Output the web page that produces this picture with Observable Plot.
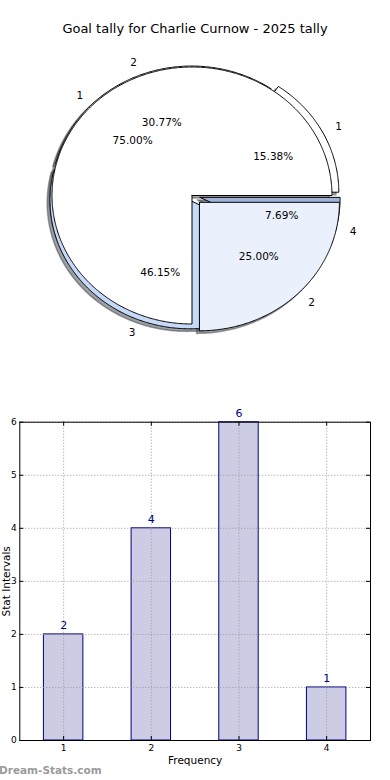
<!DOCTYPE html>
<html><head><meta charset="utf-8">
<script src="https://cdn.jsdelivr.net/npm/d3@7"></script>
<script src="https://cdn.jsdelivr.net/npm/@observablehq/plot@0.6"></script>
<style>
body{margin:0;background:#fff;font-family:"DejaVu Sans",sans-serif;}
#wrap{position:relative;width:390px;height:780px;overflow:hidden;background:#fff}
#pie{position:absolute;left:0;top:0}
#title{position:absolute;left:0;top:21px;width:390px;text-align:center;font-size:13px;line-height:16px;color:#000;}
#bar{position:absolute;left:0;top:400px}
#wm{position:absolute;left:-1px;top:763px;font-size:10.5px;line-height:14px;font-weight:bold;color:#9a9a9a}
svg text{font-family:"DejaVu Sans",sans-serif;}
</style></head>
<body><div id="wrap"><div id="pie"></div><div id="title">Goal tally for Charlie Curnow - 2025 tally</div><div id="bar"></div><div id="wm">Dream-Stats.com</div></div>
<script>
// ---- data ----
const frequencies = [1, 2, 3, 4];
const counts = [2, 4, 6, 1];
const yTicks = [0, 1, 2, 3, 4, 5, 6];

const pieALabels = ["1", "2", "3", "4"];
const pieAValues = [2, 4, 6, 1];
const pieBLabels = ["1", "2"];
const pieBValues = [75, 25];

// ---- styles ----
const pieAColors = ["#ffffff", "#ffffff", "#c6d9f8", "#9fb4d8"];
const pieAExplode = [0.055, 0.008, 0.04, 0.06];
const pieBColors = ["#ffffff", "#eaf0fc"];
const pieBExplode = [0, 0.075];

function wedges(name, labels, values, colors, explode) {
  const total = d3.sum(values);
  const arcs = d3.pie().sort(null).startAngle(Math.PI / 2).endAngle(Math.PI / 2 - 2 * Math.PI)(values);
  return arcs.map((a, i) => {
    const p0 = Math.PI / 2 - a.startAngle, p1 = Math.PI / 2 - a.endAngle;
    const pm = (p0 + p1) / 2;
    const ox = explode[i] * Math.cos(pm), oy = explode[i] * Math.sin(pm);
    const n = Math.max(2, Math.ceil((p1 - p0) / (Math.PI / 360)));
    const pts = [{x: ox, y: oy}];
    for (let k = 0; k <= n; k++) {
      const t = p0 + (p1 - p0) * k / n;
      pts.push({x: ox + Math.cos(t), y: oy + Math.sin(t)});
    }
    pts.push({x: ox, y: oy});
    return {id: name + i, label: labels[i], pct: (values[i] / total * 100).toFixed(2) + "%",
            color: colors[i], pts, ox, oy, pm};
  });
}
const wA = wedges("A", pieALabels, pieAValues, pieAColors, pieAExplode);
const wB = wedges("B", pieBLabels, pieBValues, pieBColors, pieBExplode);
const all = [...wA, ...wB];
const shade = c => { const r = d3.rgb(c); return d3.rgb(r.r * 0.3, r.g * 0.3, r.b * 0.3).formatHex(); };
const shadowRows = all.flatMap(w => w.pts.map(p => ({id: "s" + w.id, x: p.x - 0.02, y: p.y - 0.02, color: shade(w.color)})));
const rows = ws => ws.flatMap(w => w.pts.map(p => ({id: w.id, x: p.x, y: p.y, color: w.color})));
const outer = all.map(w => ({text: w.label, x: w.ox + 1.1 * Math.cos(w.pm), y: w.oy + 1.1 * Math.sin(w.pm)}));
const inner = all.map(w => ({text: w.pct, x: w.ox + 0.6 * Math.cos(w.pm), y: w.oy + 0.6 * Math.sin(w.pm)}));

const pie = Plot.plot({
  width: 390, height: 380, margin: 0,
  x: {domain: [-191.5 / 140, 198.5 / 140], axis: null},
  y: {domain: [(195 - 380) / 128.5, 195 / 128.5], axis: null},
  color: {type: "identity"},
  marks: [
    Plot.line(shadowRows, {x: "x", y: "y", z: "id", fill: "color", stroke: "color", fillOpacity: 0.5, strokeOpacity: 0.5, curve: "linear"}),
    Plot.line(rows(wA), {x: "x", y: "y", z: "id", fill: "color", stroke: "#000", strokeWidth: 1, curve: "linear", strokeLinejoin: "miter"}),
    Plot.line(rows(wB), {x: "x", y: "y", z: "id", fill: "color", stroke: "#000", strokeWidth: 1, curve: "linear", strokeLinejoin: "miter"}),
    Plot.text(outer.filter(d => d.x > 0), {x: "x", y: "y", text: "text", textAnchor: "start", fontSize: 10.5, fill: "#000"}),
    Plot.text(outer.filter(d => d.x <= 0), {x: "x", y: "y", text: "text", textAnchor: "end", fontSize: 10.5, fill: "#000"}),
    Plot.text(inner, {x: "x", y: "y", text: "text", textAnchor: "middle", fontSize: 10.5, fill: "#000"})
  ]
});
document.getElementById("pie").append(pie);

// ---- bar chart ----
const barData = frequencies.map((f, i) => ({freq: f, count: counts[i]}));
const mL = 19.3, mR = 20, mT = 21.7, mB = 40, W = 390, H = 380;
const pw = W - mL - mR, ph = H - mT - mB;
const bar = Plot.plot({
  width: W, height: H, marginLeft: mL, marginRight: mR, marginTop: mT, marginBottom: mB,
  x: {domain: [0.5, 4.5]},
  y: {domain: [0, 6]},
  style: {fontFamily: "DejaVu Sans", fontSize: "9px", color: "#000"},
  marks: [
    Plot.rectY(barData, {x1: d => d.freq - 0.225, x2: d => d.freq + 0.225, y1: 0, y2: "count", fill: "#ccccE5", stroke: "#000080", strokeWidth: 1}),
    Plot.gridX(frequencies, {stroke: "#999", strokeOpacity: 1, strokeDasharray: "1,2"}),
    Plot.gridY(yTicks, {stroke: "#999", strokeOpacity: 1, strokeDasharray: "1,2"}),
    Plot.text(barData, {x: "freq", y: "count", text: d => String(d.count), dy: -9, fill: "#00008b", fontSize: 11}),
    Plot.tickY(yTicks, {y: d => d, insetRight: pw - 4, stroke: "#000"}),
    Plot.tickY(yTicks, {y: d => d, insetLeft: pw - 4, stroke: "#000"}),
    Plot.tickX(frequencies, {x: d => d, insetTop: ph - 4, stroke: "#000"}),
    Plot.tickX(frequencies, {x: d => d, insetBottom: ph - 4, stroke: "#000"}),
    Plot.frame({stroke: "#000"}),
    Plot.axisX(frequencies, {tickSize: 0, tickPadding: 4, label: null, fontSize: 9, tickFormat: d => String(d)}),
    Plot.axisY(yTicks, {tickSize: 0, tickPadding: 3, label: null, fontSize: 9, tickFormat: d => String(d)}),
    Plot.text(["Frequency"], {text: d => d, frameAnchor: "bottom", lineAnchor: "middle", dy: 20, fontSize: 10.5, fill: "#000"}),
    Plot.text(["Stat Intervals"], {text: d => d, frameAnchor: "left", textAnchor: "middle", lineAnchor: "middle", dx: -13.5, rotate: -90, fontSize: 10.5, fill: "#000"})
  ]
});
document.getElementById("bar").append(bar);
</script>
</body></html>
